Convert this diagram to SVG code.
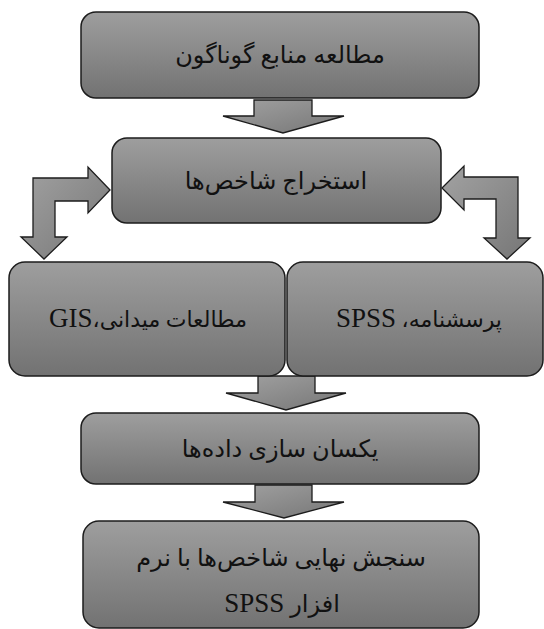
<svg xmlns="http://www.w3.org/2000/svg" width="544" height="629" viewBox="0 0 544 629">
  <defs>
    <linearGradient id="g" x1="0" y1="0" x2="0" y2="1">
      <stop offset="0" stop-color="#9e9e9e"/>
      <stop offset="1" stop-color="#727272"/>
    </linearGradient>
    <linearGradient id="ga" x1="0" y1="0" x2="1" y2="1">
      <stop offset="0" stop-color="#a2a2a2"/>
      <stop offset="1" stop-color="#767676"/>
    </linearGradient>
  </defs>
  <style>
    .box { fill: url(#g); stroke: #1c1c1c; stroke-width: 1.5; }
    .arr { fill: url(#ga); stroke: #1c1c1c; stroke-width: 1.3; stroke-linejoin: miter; }
    .t { font-family: "Liberation Serif", "DejaVu Sans", serif; font-size: 24px; fill: #111; text-anchor: middle; direction: rtl; unicode-bidi: embed; }
    .s { font-size: 22px; }
    .l { font-family: "Liberation Serif", serif; font-size: 27px; }
  </style>
  <rect width="544" height="629" fill="#ffffff"/>
  <g id="connectors">
    <polygon class="arr" points="254,100 312,100 312,116 344,116 283,133 223,116 254,116"/>
    <polygon class="arr" points="110,190 88,167 88,178 33,178 33,237 21,237 44,259 67,237 55,237 55,201 88,201 88,213"/>
    <polygon class="arr" points="442,188 464,166 464,177 518,177 518,238 530,238 507,259 484,238 496,238 496,199 464,199 464,210"/>
    <polygon class="arr" points="258,376 315,376 315,393 346,393 286,410 226,393 258,393"/>
    <polygon class="arr" points="255,485 312,485 312,502 344,502 284,518 223,502 255,502"/>
  </g>
  <g id="node1">
    <rect class="box" x="81" y="12" width="398" height="86" rx="15"/>
    <text class="t" x="280" y="63">مطالعه منابع گوناگون</text>
  </g>
  <g id="node2">
    <rect class="box" x="112" y="138" width="329" height="85" rx="15"/>
    <text class="t" x="276" y="189">استخراج شاخص&#x200C;ها</text>
  </g>
  <g id="node3">
    <rect class="box" x="9" y="262" width="276" height="114" rx="16"/>
    <text class="t s" x="148" y="327">مطالعات میدانی،<tspan class="l">GIS</tspan></text>
  </g>
  <g id="node4">
    <rect class="box" x="287" y="262" width="256" height="114" rx="16"/>
    <text class="t s" x="419" y="327">پرسشنامه، <tspan class="l">SPSS</tspan></text>
  </g>
  <g id="node5">
    <rect class="box" x="81" y="413" width="398" height="71" rx="15"/>
    <text class="t" x="280" y="457">یکسان سازی داده&#x200C;ها</text>
  </g>
  <g id="node6">
    <rect class="box" x="83" y="521" width="396" height="107" rx="16"/>
    <text class="t" x="281" y="566">سنجش نهایی شاخص&#x200C;ها با نرم</text>
    <text class="t" x="282" y="612">افزار <tspan class="l">SPSS</tspan></text>
  </g>
</svg>
